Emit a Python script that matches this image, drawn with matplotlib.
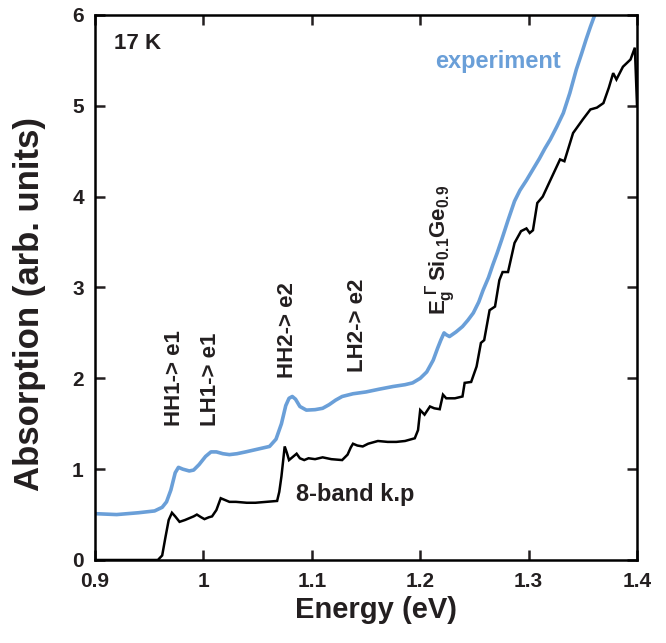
import numpy as np
import matplotlib
matplotlib.use("Agg")
import matplotlib.pyplot as plt

plt.rcParams['font.family'] = ['Liberation Sans', 'DejaVu Sans']
plt.rcParams['font.weight'] = 'bold'
plt.rcParams['axes.labelweight'] = 'bold'
plt.rcParams['mathtext.fontset'] = 'custom'
plt.rcParams['mathtext.rm'] = 'Liberation Sans:bold'
plt.rcParams['mathtext.it'] = 'Liberation Sans:bold'
plt.rcParams['mathtext.bf'] = 'Liberation Sans:bold'

# measured absorption at 17 K
exp_energy = [0.900, 0.920, 0.940, 0.955, 0.962, 0.966, 0.970, 0.974, 0.977, 0.981,
              0.987, 0.991, 0.996, 1.002, 1.007, 1.012, 1.018, 1.024, 1.031, 1.039,
              1.050, 1.061, 1.067, 1.072, 1.076, 1.079, 1.082, 1.085, 1.089, 1.095,
              1.103, 1.110, 1.116, 1.122, 1.128, 1.138, 1.150, 1.162, 1.175, 1.186,
              1.193, 1.200, 1.206, 1.212, 1.216, 1.219, 1.222, 1.224, 1.227, 1.233,
              1.239, 1.244, 1.249, 1.254, 1.258, 1.263, 1.267, 1.271, 1.275, 1.281,
              1.287, 1.292, 1.298, 1.304, 1.310, 1.315, 1.320, 1.326, 1.332, 1.338,
              1.344, 1.349, 1.353, 1.357, 1.361]
exp_absorption = [0.51, 0.50, 0.52, 0.54, 0.58, 0.64, 0.77, 0.96, 1.02, 1.00,
                  0.98, 0.99, 1.05, 1.14, 1.19, 1.19, 1.17, 1.16, 1.17, 1.19,
                  1.22, 1.25, 1.33, 1.50, 1.70, 1.78, 1.80, 1.77, 1.69, 1.65,
                  1.655, 1.67, 1.71, 1.76, 1.80, 1.83, 1.85, 1.88, 1.91, 1.93,
                  1.95, 2.00, 2.07, 2.20, 2.33, 2.42, 2.50, 2.48, 2.46, 2.51,
                  2.57, 2.64, 2.72, 2.84, 2.97, 3.11, 3.25, 3.38, 3.52, 3.74,
                  3.95, 4.07, 4.18, 4.30, 4.42, 4.53, 4.63, 4.77, 4.92, 5.14,
                  5.40, 5.58, 5.73, 5.87, 6.00]

# 8-band k.p calculation
kp_energy = [0.900, 0.958, 0.962, 0.965, 0.968, 0.971, 0.974, 0.978, 0.983, 0.987,
             0.991, 0.994, 0.998, 1.001, 1.005, 1.008, 1.012, 1.016, 1.020, 1.024,
             1.030, 1.040, 1.048, 1.058, 1.068, 1.070, 1.072, 1.075, 1.077, 1.079,
             1.083, 1.086, 1.089, 1.093, 1.097, 1.103, 1.110, 1.118, 1.128, 1.133,
             1.136, 1.138, 1.142, 1.147, 1.152, 1.161, 1.170, 1.178, 1.186, 1.195,
             1.198, 1.200, 1.204, 1.209, 1.213, 1.218, 1.221, 1.224, 1.232, 1.239,
             1.241, 1.247, 1.252, 1.256, 1.259, 1.264, 1.269, 1.273, 1.276, 1.281,
             1.287, 1.293, 1.298, 1.301, 1.304, 1.308, 1.313, 1.320, 1.329, 1.333,
             1.341, 1.350, 1.357, 1.363, 1.369, 1.374, 1.378, 1.381, 1.387, 1.394,
             1.398, 1.400]
kp_absorption = [0.00, 0.00, 0.05, 0.25, 0.44, 0.52, 0.48, 0.42, 0.44, 0.46,
                 0.48, 0.50, 0.47, 0.45, 0.47, 0.48, 0.55, 0.68, 0.66, 0.64,
                 0.64, 0.63, 0.63, 0.64, 0.65, 0.75, 0.92, 1.25, 1.18, 1.10,
                 1.14, 1.17, 1.12, 1.10, 1.12, 1.11, 1.13, 1.11, 1.10, 1.16,
                 1.24, 1.28, 1.26, 1.25, 1.28, 1.31, 1.30, 1.30, 1.31, 1.34,
                 1.43, 1.65, 1.60, 1.69, 1.67, 1.66, 1.82, 1.78, 1.78, 1.80,
                 1.95, 1.96, 2.13, 2.39, 2.42, 2.75, 2.79, 3.08, 3.17, 3.17,
                 3.49, 3.62, 3.65, 3.60, 3.63, 3.93, 4.00, 4.18, 4.41, 4.39,
                 4.70, 4.85, 4.96, 4.98, 5.03, 5.20, 5.36, 5.29, 5.43, 5.51,
                 5.64, 5.00]

# transition labels: (text, energy, absorption at label bottom)
transitions = [("HH1-> e1", 0.973, 1.47),
               ("LH1-> e1", 1.007, 1.47),
               ("HH2-> e2", 1.078, 2.00),
               ("LH2-> e2", 1.142, 2.07)]

x_ticks = [0.9, 1.0, 1.1, 1.2, 1.3, 1.4]
x_ticklabels = ["0.9", "1", "1.1", "1.2", "1.3", "1.4"]
y_ticks = [0, 1, 2, 3, 4, 5, 6]

blue = "#6a9fd8"
ink = "#231f20"

fig = plt.figure(figsize=(6.66, 6.43), dpi=100)
ax = fig.add_axes([0.1426, 0.1291, 0.8139, 0.8476])

ax.plot(kp_energy, kp_absorption, color="black", lw=1.8, solid_joinstyle="miter")
ax.plot(exp_energy, exp_absorption, color=blue, lw=2.6, solid_joinstyle="round")

ax.set_xlim(0.9, 1.4)
ax.set_ylim(0, 6)
ax.set_xticks(x_ticks)
ax.set_xticklabels(x_ticklabels)
ax.set_yticks(y_ticks)
ax.tick_params(direction="in", length=7, width=1.8, top=True, right=True,
               labelsize=15, colors=ink)
ax.tick_params(axis="x", pad=9)
ax.tick_params(axis="y", pad=8)
for s in ax.spines.values():
    s.set_linewidth(1.8)

ax.set_xlabel("Energy (eV)", fontsize=21, color=ink)
ax.set_ylabel("Absorption (arb. units)", fontsize=25, color=ink)
ax.xaxis.set_label_coords(0.518, -0.066)
ax.yaxis.set_label_coords(-0.09, 0.47)

ax.text(0.9176, 5.69, "17 K", fontsize=16, color=ink, va="center", ha="left")
ax.text(1.330, 5.49, "experiment", fontsize=17, color=blue, va="center", ha="right")
ax.text(1.0855, 0.716, "8-band k.p", fontsize=17, color=ink, va="center", ha="left")

for label, e, a in transitions:
    ax.text(e, a, label, rotation=90, fontsize=16, color=ink, ha="center", va="bottom")

ax.text(1.219, 2.70, r"$E_g^{\ \Gamma}\,Si_{0.1}Ge_{0.9}$", rotation=90, fontsize=16,
        color=ink, ha="center", va="bottom")

fig.savefig("out.png", dpi=100)
